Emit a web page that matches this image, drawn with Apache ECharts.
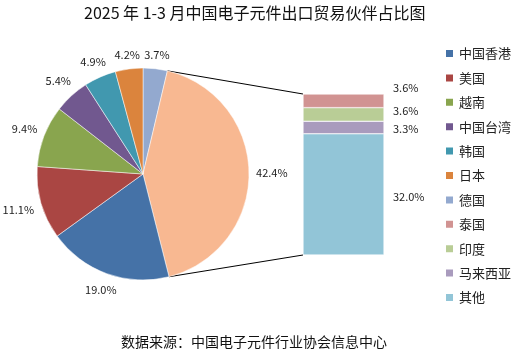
<!DOCTYPE html>
<html>
<head>
<meta charset="utf-8">
<script src="https://cdn.jsdelivr.net/npm/echarts@6/dist/echarts.min.js"></script>
<style>
  html, body { margin: 0; padding: 0; background: #fff; }
  #main { width: 516px; height: 355px; }
</style>
</head>
<body>
<div id="main"></div>
<script>
// export partners, share in %
const partners = ['中国香港', '美国', '越南', '中国台湾', '韩国', '日本', '德国'];
const partnerShare = [19.0, 11.1, 9.4, 5.4, 4.9, 4.2, 3.7];
const restName = '其他合计';
const restShare = 42.4;
// breakdown of the rest slice, top to bottom
const splitNames = ['泰国', '印度', '马来西亚', '其他'];
const splitShare = [3.6, 3.6, 3.3, 32.0];

const colors = {
  '中国香港': '#4572A7', '美国': '#AA4643', '越南': '#89A54E', '中国台湾': '#71588F',
  '韩国': '#4198AF', '日本': '#DB843D', '德国': '#93A9CF', '其他合计': '#F8B891',
  '泰国': '#D19392', '印度': '#B9CD96', '马来西亚': '#A99BBD', '其他': '#92C5D7'
};
// nudges so the small bar labels do not collide
const barLabelDy = { '泰国': -13, '印度': -4, '马来西亚': 1, '其他': 2 };

const font = '"Noto Sans CJK SC", "Noto Sans", sans-serif';
const chart = echarts.init(document.getElementById('main'));

// pie runs clockwise from 12 o'clock: 德国, rest, then 中国香港 ... 日本
const pieOrder = [partners.length - 1, -1, 0, 1, 2, 3, 4, 5];
const pieData = pieOrder.map(i => i < 0
  ? { name: restName, value: restShare, itemStyle: { color: colors[restName] } }
  : { name: partners[i], value: partnerShare[i], itemStyle: { color: colors[partners[i]] } });

const barSeries = splitNames.slice().reverse().map(n => ({
  name: n,
  type: 'bar',
  stack: 'rest',
  barWidth: '100%',
  data: [splitShare[splitNames.indexOf(n)]],
  itemStyle: { color: colors[n], borderColor: '#fff', borderWidth: 0.5 },
  label: {
    show: true,
    position: 'right',
    distance: 9,
    offset: [0, barLabelDy[n]],
    color: '#222',
    fontSize: 11,
    fontFamily: font,
    formatter: p => p.value.toFixed(1) + '%'
  }
}));

// centre each pie label just outside the slice, along its mid angle
function pieLabelLayout(p) {
  const L = chart.getModel().getSeriesByIndex(0).getData().getItemLayout(p.dataIndex);
  const mid = (L.startAngle + L.endAngle) / 2;
  const ux = Math.cos(mid), uy = Math.sin(mid);
  const d = L.r + 7 + Math.abs(ux) * p.labelRect.width / 2 + Math.abs(uy) * p.labelRect.height / 2;
  return { x: L.cx + ux * d, y: L.cy + uy * d, align: 'center', verticalAlign: 'middle' };
}

const option = {
  animation: false,
  title: [
    {
      text: '2025 年 1-3 月中国电子元件出口贸易伙伴占比图',
      left: 79,
      top: 0,
      textStyle: { fontSize: 16, fontWeight: 'normal', color: '#111', fontFamily: font }
    },
    {
      text: '数据来源：中国电子元件行业协会信息中心',
      left: 116,
      top: 330,
      textStyle: { fontSize: 14, fontWeight: 'normal', color: '#111', fontFamily: font }
    }
  ],
  legend: {
    orient: 'vertical',
    left: 444,
    top: 47,
    padding: 0,
    icon: 'rect',
    itemWidth: 9,
    itemHeight: 9,
    itemGap: 11.4,
    data: partners.concat(splitNames),
    textStyle: { fontSize: 13, color: '#222', fontFamily: font }
  },
  grid: { left: 303, top: 94, width: 81, height: 161 },
  xAxis: { type: 'category', data: [''], show: false },
  yAxis: { type: 'value', min: 0, max: splitShare.reduce((a, b) => a + b, 0), show: false },
  series: [
    {
      name: '出口占比',
      type: 'pie',
      center: [143, 174],
      radius: 106,
      startAngle: 90,
      clockwise: true,
      data: pieData,
      itemStyle: { borderColor: '#fff', borderWidth: 0.5 },
      label: {
        show: true,
        position: 'outside',
        overflow: 'none',
        color: '#222',
        fontSize: 11,
        fontFamily: font,
        formatter: p => p.value.toFixed(1) + '%'
      },
      labelLine: { show: false },
      labelLayout: pieLabelLayout
    }
  ].concat(barSeries)
};

chart.setOption(option);

// connector lines from the rest slice to the breakdown bar
const pieLayout = chart.getModel().getSeriesByIndex(0).getData().getItemLayout(1);
const topBar = chart.getModel().getSeriesByIndex(barSeries.length).getData().getItemLayout(0);
const bottomBar = chart.getModel().getSeriesByIndex(1).getData().getItemLayout(0);
const a0 = pieLayout.startAngle, a1 = pieLayout.endAngle;
const p0 = [pieLayout.cx + pieLayout.r * Math.cos(a0), pieLayout.cy + pieLayout.r * Math.sin(a0)];
const p1 = [pieLayout.cx + pieLayout.r * Math.cos(a1), pieLayout.cy + pieLayout.r * Math.sin(a1)];
const barTop = Math.min(topBar.y, topBar.y + topBar.height);
const barBottom = Math.max(bottomBar.y, bottomBar.y + bottomBar.height);
const barLeft = Math.min(topBar.x, topBar.x + topBar.width);

chart.setOption({
  graphic: [
    { type: 'line', shape: { x1: p0[0], y1: p0[1], x2: barLeft, y2: barTop }, style: { stroke: '#000', lineWidth: 1 } },
    { type: 'line', shape: { x1: p1[0], y1: p1[1], x2: barLeft, y2: barBottom }, style: { stroke: '#000', lineWidth: 1 } }
  ]
});
</script>
</body>
</html>
